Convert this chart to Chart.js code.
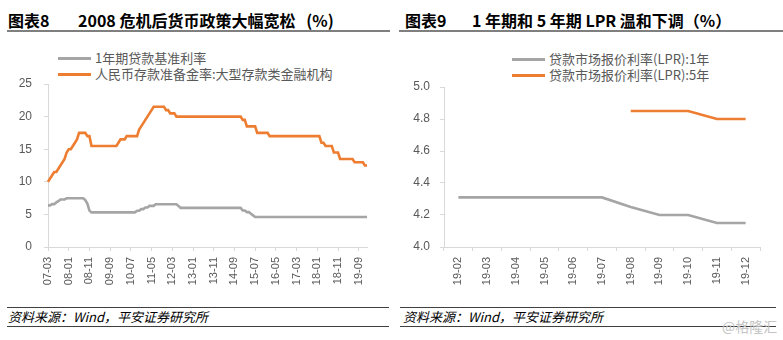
<!DOCTYPE html>
<html lang="zh-CN">
<head>
<meta charset="utf-8">
<title>货币政策与LPR</title>
<script src="https://cdn.jsdelivr.net/npm/chart.js@4.4.1/dist/chart.umd.min.js"></script>
<style>
  html, body { margin: 0; padding: 0; background: #fff; }
  body { width: 783px; height: 340px; position: relative; overflow: hidden; font-family: "Noto Sans CJK SC", "Liberation Sans", sans-serif; }
  .abs { position: absolute; white-space: nowrap; }
  .title { top: 10px; font-size: 16px; font-weight: bold; color: #000; line-height: 20px; }
  .bar { height: 2px; top: 30px; background: #7f7f7f; }
  .rule { height: 1px; background: #404040; }
  .source { top: 308px; font-size: 13px; font-style: italic; line-height: 17px; color: #000; }
  .mark { top: 317px; left: 722px; font-size: 14px; line-height: 18px; color: #c4c4c4; }
  .legend { font-size: 13px; color: #595959; line-height: 16px; }
  .legend div { display: flex; align-items: center; }
  .legend i { display: inline-block; width: 33px; height: 3px; margin-right: 4px; }
  canvas { position: absolute; }
</style>
</head>
<body>
<div class="abs title" style="left:8px">图表8</div>
<div class="abs title" style="left:78px">2008 危机后货币政策大幅宽松&nbsp;&nbsp;&nbsp;(%)</div>
<div class="abs bar" style="left:7px;width:383px"></div>
<div class="abs title" style="left:405px">图表9</div>
<div class="abs title" style="left:472px">1 年期和 5 年期 LPR 温和下调（%）</div>
<div class="abs bar" style="left:399px;width:384px"></div>

<div id="legend1" class="abs legend" style="left:58px;top:50px"></div>
<div id="legend2" class="abs legend" style="left:512px;top:51px"></div>
<canvas id="policyChart" width="392" height="240" style="left:0;top:60px"></canvas>
<canvas id="lprChart" width="391" height="240" style="left:392px;top:60px"></canvas>

<div class="abs rule" style="left:7px;top:307px;width:382px"></div>
<div class="abs source" style="left:8px">资料来源：Wind，平安证券研究所</div>
<div class="abs rule" style="left:7px;top:326px;width:382px"></div>
<div class="abs rule" style="left:400px;top:307px;width:376px"></div>
<div class="abs source" style="left:403px">资料来源：Wind，平安证券研究所</div>
<div class="abs rule" style="left:400px;top:326px;width:376px"></div>
<div class="abs mark">@格隆汇</div>

<script>
// monthly series, 2007-03 .. 2020-01 (one row per year)
const START_YEAR = 2007, START_MONTH = 3, MONTH_COUNT = 155;

const loanRate1y = [
  6.39, 6.39, 6.57, 6.57, 6.84, 7.02, 7.29, 7.29, 7.29, 7.47,                 // 2007 (03-12)
  7.47, 7.47, 7.47, 7.47, 7.47, 7.47, 7.47, 7.47, 7.20, 6.66, 5.58, 5.31,     // 2008
  5.31, 5.31, 5.31, 5.31, 5.31, 5.31, 5.31, 5.31, 5.31, 5.31, 5.31, 5.31,     // 2009
  5.31, 5.31, 5.31, 5.31, 5.31, 5.31, 5.31, 5.31, 5.31, 5.56, 5.56, 5.81,     // 2010
  5.81, 6.06, 6.06, 6.31, 6.31, 6.31, 6.56, 6.56, 6.56, 6.56, 6.56, 6.56,     // 2011
  6.56, 6.56, 6.56, 6.56, 6.56, 6.31, 6.00, 6.00, 6.00, 6.00, 6.00, 6.00,     // 2012
  6.00, 6.00, 6.00, 6.00, 6.00, 6.00, 6.00, 6.00, 6.00, 6.00, 6.00, 6.00,     // 2013
  6.00, 6.00, 6.00, 6.00, 6.00, 6.00, 6.00, 6.00, 6.00, 6.00, 6.00, 6.00,     // 2014
  5.60, 5.60, 5.35, 5.35, 5.10, 4.85, 4.60, 4.60, 4.60, 4.60, 4.60, 4.60,     // 2015
  4.60, 4.60, 4.60, 4.60, 4.60, 4.60, 4.60, 4.60, 4.60, 4.60, 4.60, 4.60,     // 2016
  4.60, 4.60, 4.60, 4.60, 4.60, 4.60, 4.60, 4.60, 4.60, 4.60, 4.60, 4.60,     // 2017
  4.60, 4.60, 4.60, 4.60, 4.60, 4.60, 4.60, 4.60, 4.60, 4.60, 4.60, 4.60,     // 2018
  4.60, 4.60, 4.60, 4.60, 4.60, 4.60, 4.60, 4.60, 4.60, 4.60, 4.60, 4.60,     // 2019
  4.60                                                                        // 2020-01
];

const reserveRatioLarge = [
  10, 10.5, 11, 11.5, 11.5, 12, 12.5, 13, 13.5, 14.5,                         // 2007 (03-12)
  15, 15, 15.5, 16, 16.5, 17.5, 17.5, 17.5, 17.5, 17, 17, 15.5,               // 2008
  15.5, 15.5, 15.5, 15.5, 15.5, 15.5, 15.5, 15.5, 15.5, 15.5, 15.5, 15.5,     // 2009
  16, 16.5, 16.5, 16.5, 17, 17, 17, 17, 17, 17, 18, 18.5,                     // 2010
  19, 19.5, 20, 20.5, 21, 21.5, 21.5, 21.5, 21.5, 21.5, 21.5, 21,             // 2011
  21, 20.5, 20.5, 20.5, 20, 20, 20, 20, 20, 20, 20, 20,                       // 2012
  20, 20, 20, 20, 20, 20, 20, 20, 20, 20, 20, 20,                             // 2013
  20, 20, 20, 20, 20, 20, 20, 20, 20, 20, 20, 20,                             // 2014
  19.5, 19.5, 18.5, 18.5, 18.5, 18.5, 18.5, 17.5, 17.5, 17.5, 17.5, 17.5,     // 2015
  17.5, 17, 17, 17, 17, 17, 17, 17, 17, 17, 17, 17,                           // 2016
  17, 17, 17, 17, 17, 17, 17, 17, 17, 17, 17, 17,                             // 2017
  17, 17, 16, 16, 15.5, 15.5, 15.5, 15.5, 14.5, 14.5, 14.5, 13.5,             // 2018
  13.5, 13.5, 13.5, 13.5, 13.5, 13.5, 13, 13, 13, 13, 13, 12.5,               // 2019
  12.5                                                                        // 2020-01
];

const policyNames = ["1年期贷款基准利率", "人民币存款准备金率:大型存款类金融机构"];

// LPR after the 2019 reform
const lprMonths = ["19-02", "19-03", "19-04", "19-05", "19-06", "19-07", "19-08", "19-09", "19-10", "19-11", "19-12"];
const lpr1y = [4.31, 4.31, 4.31, 4.31, 4.31, 4.31, 4.25, 4.20, 4.20, 4.15, 4.15];
const lpr5y = [null, null, null, null, null, null, 4.85, 4.85, 4.85, 4.80, 4.80];
const lprNames = ["贷款市场报价利率(LPR):1年", "贷款市场报价利率(LPR):5年"];

const GRAY = "#a5a5a5";
const ORANGE = "#ed7d31";
const AXIS = "#d9d9d9";
const TEXT = "#595959";

// "yy-mm" category labels
const policyMonths = [];
for (let i = 0; i < MONTH_COUNT; i++) {
  const m = START_MONTH - 1 + i;
  const y = START_YEAR + Math.floor(m / 12);
  policyMonths.push(String(y % 100).padStart(2, "0") + "-" + String(m % 12 + 1).padStart(2, "0"));
}

function lineSet(label, data, color) {
  return { label, data, borderColor: color, backgroundColor: color, borderWidth: 2.6, pointRadius: 0, tension: 0, spanGaps: false };
}

function scaleOpts(yAxisWidth, yMin, yMax, yStep, yFmt, yPad, xCfg) {
  return {
    x: Object.assign({
      grid: { display: true, drawOnChartArea: false, drawTicks: true, tickLength: 4, color: AXIS },
      border: { display: true, color: AXIS, width: 1 },
      afterFit(scale) { scale.height = 53; }
    }, xCfg),
    y: {
      min: yMin, max: yMax,
      ticks: { stepSize: yStep, color: TEXT, padding: yPad, font: { family: "Liberation Sans", size: 12 }, callback: yFmt },
      grid: { display: true, drawOnChartArea: false, drawTicks: true, tickLength: 4, color: AXIS },
      border: { display: true, color: AXIS, width: 1 },
      afterFit(scale) { scale.width = yAxisWidth; }
    }
  };
}

const xTickFont = { family: "Liberation Sans", size: 11 };

const policyChart = new Chart(document.getElementById("policyChart"), {
  type: "line",
  data: {
    labels: policyMonths,
    datasets: [
      lineSet(policyNames[0], loanRate1y, GRAY),
      lineSet(policyNames[1], reserveRatioLarge, ORANGE)
    ]
  },
  options: {
    responsive: false,
    animation: false,
    layout: { padding: { top: 24, right: 25, left: 0, bottom: 0 } },
    plugins: { legend: { display: false }, tooltip: { enabled: false } },
    scales: scaleOpts(48, 0, 25, 5, (v) => v, 12, {
      offset: false,
      ticks: {
        autoSkip: false, maxRotation: 90, minRotation: 90, padding: 6, color: TEXT, font: xTickFont,
        callback: (v, i) => (i % 10 === 0 ? policyMonths[i] : null)
      }
    })
  }
});

const lprChart = new Chart(document.getElementById("lprChart"), {
  type: "line",
  data: {
    labels: lprMonths,
    datasets: [
      lineSet(lprNames[0], lpr1y, GRAY),
      lineSet(lprNames[1], lpr5y, ORANGE)
    ]
  },
  options: {
    responsive: false,
    animation: false,
    layout: { padding: { top: 27, right: 23, left: 0, bottom: 0 } },
    plugins: { legend: { display: false }, tooltip: { enabled: false } },
    scales: scaleOpts(52, 4.0, 5.0, 0.2, (v) => Number(v).toFixed(1), 10, {
      offset: true,
      grid: { display: true, offset: true, drawOnChartArea: false, drawTicks: true, tickLength: 4, color: AXIS },
      ticks: { autoSkip: false, maxRotation: 90, minRotation: 90, padding: 6, color: TEXT, font: xTickFont }
    })
  }
});

// legend rows built from the datasets
function buildLegend(id, chart) {
  const host = document.getElementById(id);
  chart.data.datasets.forEach((ds) => {
    const row = document.createElement("div");
    const swatch = document.createElement("i");
    swatch.style.background = ds.borderColor;
    row.appendChild(swatch);
    row.appendChild(document.createTextNode(ds.label));
    host.appendChild(row);
  });
}
buildLegend("legend1", policyChart);
buildLegend("legend2", lprChart);
</script>
</body>
</html>
